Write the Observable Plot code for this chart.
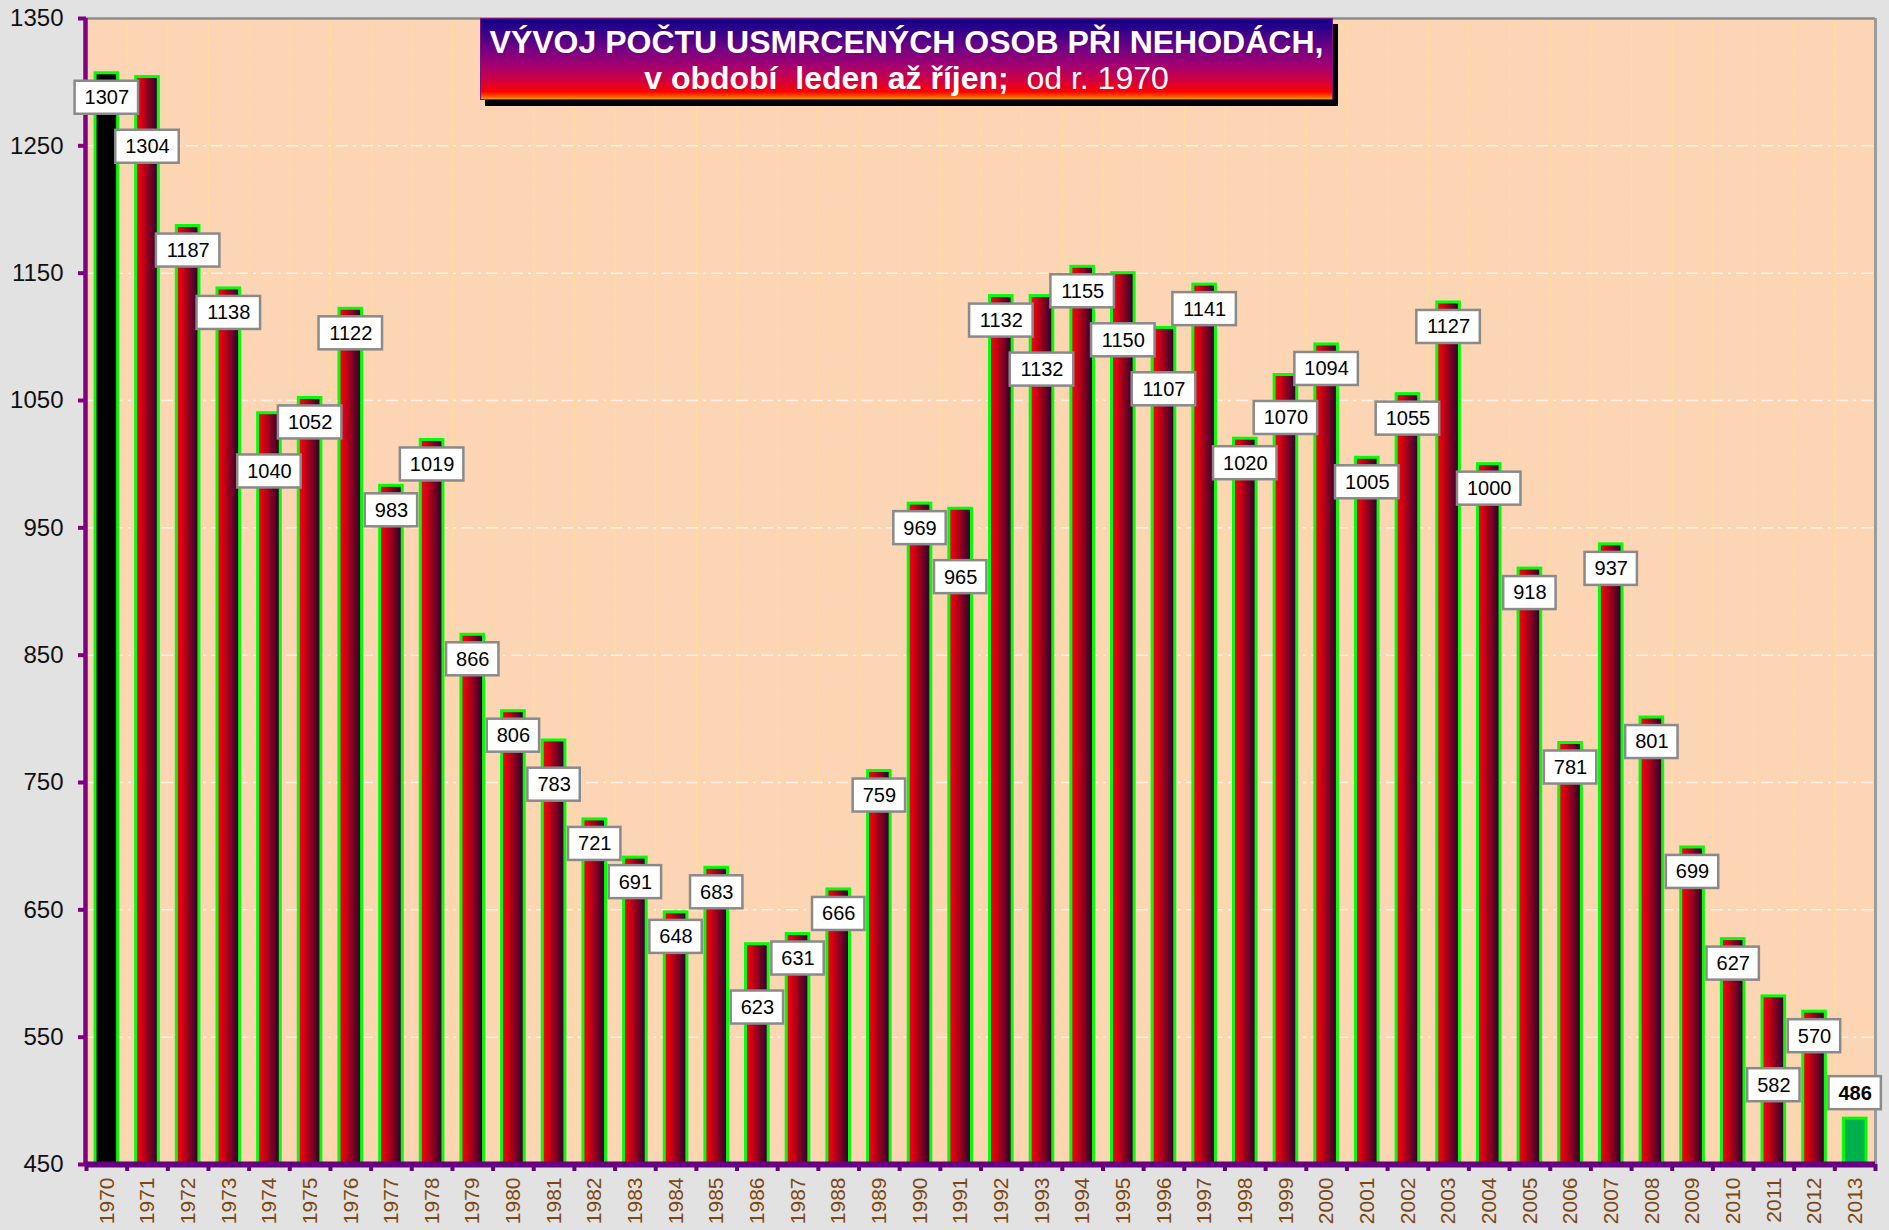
<!DOCTYPE html>
<html>
<head>
<meta charset="utf-8">
<script src="https://cdn.jsdelivr.net/npm/d3@7"></script>
<script src="https://cdn.jsdelivr.net/npm/@observablehq/plot@0.6"></script>
<style>
  html, body { margin: 0; padding: 0; background: #e2e2e2; }
  #wrap { position: relative; width: 1889px; height: 1230px; overflow: hidden; }
  #title {
    position: absolute; left: 480px; top: 18px; width: 853px; height: 82px;
    box-sizing: border-box; border: 1.5px solid #80107f;
    background: linear-gradient(to bottom, #0e0088 0%, #3c0088 18%, #7a0082 40%, #a8006e 60%, #d4003c 78%, #ff0000 91%, #ff5a00 97%, #ff9a00 100%);
    box-shadow: 5px 6px 0 #000;
    color: #fff; font-family: "Liberation Sans", Arial, sans-serif; font-size: 32px;
    text-align: center; padding-top: 5px; line-height: 36px; white-space: pre;
  }
  #title .b { font-weight: bold; }
  #title .n { font-weight: normal; }
</style>
</head>
<body>
<div id="wrap">
  <div id="chart"></div>
  <div id="title"><div class="b">VÝVOJ POČTU USMRCENÝCH OSOB PŘI NEHODÁCH,</div><div><span class="b">v období  leden až říjen;</span><span class="n">  od r. 1970</span></div></div>
</div>
<script>
// ---- data ----
const years = [1970,1971,1972,1973,1974,1975,1976,1977,1978,1979,
               1980,1981,1982,1983,1984,1985,1986,1987,1988,1989,
               1990,1991,1992,1993,1994,1995,1996,1997,1998,1999,
               2000,2001,2002,2003,2004,2005,2006,2007,2008,2009,
               2010,2011,2012,2013];
const deaths = [1307,1304,1187,1138,1040,1052,1122,983,1019,866,
                806,783,721,691,648,683,623,631,666,759,
                969,965,1132,1132,1155,1150,1107,1141,1020,1070,
                1094,1005,1055,1127,1000,918,781,937,801,699,
                627,582,570,486];
const yTicks = [450,550,650,750,850,950,1050,1150,1250,1350];

// ---- layout ----
const W = 1889, H = 1230, mL = 86, mR = 14, mT = 18, mB = 66;
const yMin = 450, yMax = 1350;
const pIn = 0.444, pOut = 0.222;
const n = years.length, last = n - 1;
const step = (W - mL - mR) / (n - pIn + 2 * pOut);
const bw = step * (1 - pIn);
const font = "Liberation Sans, Arial, sans-serif";

const data = years.map((year, i) => ({year, value: deaths[i], i}));
const yScale = Plot.scale({y: {domain: [yMin, yMax], range: [H - mB, mT]}});

// ---- data label placement (inside end, pushed down on collision) ----
const boxH = 33, off = 8, gap = 16, fs = 20;
const tops = data.map(d => yScale.apply(d.value) + off);
tops[last] = yScale.apply(data[last].value) - 9 - boxH; // current year: outside end
const ov = (a, b) => a >= 0 && b >= 0 && a < n && b < n && tops[a] < tops[b] + boxH && tops[b] < tops[a] + boxH;
for (let i = 1; i < last; i++) {
  if (!ov(i - 1, i)) continue;
  let lower = data[i].value <= data[i - 1].value ? i : i - 1;
  let other = lower === i ? i - 1 : i;
  const fixedNeighbor = lower === i ? (i + 1 === last ? i + 1 : -1) : i - 2;
  const save = tops[lower];
  tops[lower] = tops[other] + boxH + gap;
  if (fixedNeighbor >= 0 && ov(lower, fixedNeighbor)) {
    tops[lower] = save;
    [lower, other] = [other, lower];
    tops[lower] = tops[other] + boxH + gap;
  }
}
const labels = data.map((d, k) => ({...d, top: tops[k], digits: String(d.value).length}));

const boxMark = (digits) => {
  const inset = -((digits * 0.556 * fs + 19) - bw) / 2;
  return Plot.barY(labels.filter(d => d.digits === digits), {
    x: "year",
    y1: d => yScale.invert(d.top + boxH),
    y2: d => yScale.invert(d.top),
    fill: "#ffffff", stroke: "#8a8a8a", strokeWidth: 2.5,
    insetLeft: inset, insetRight: inset
  });
};

const svg = Plot.plot({
  width: W, height: H,
  marginLeft: mL, marginRight: mR, marginTop: mT, marginBottom: mB,
  style: {fontFamily: font, background: "#e2e2e2", overflow: "visible"},
  x: {type: "band", domain: years, paddingInner: pIn, paddingOuter: pOut, round: false, axis: null},
  y: {domain: [yMin, yMax], axis: null},
  marks: [
    Plot.frame({fill: "#fcd5b4", stroke: "none"}),
    // vertical grid at category boundaries
    Plot.ruleX(years.slice(1), {x: d => d, dx: -step / 2, stroke: "#ffe38c", strokeWidth: 1, strokeDasharray: "3,2"}),
    // horizontal grid
    Plot.ruleY(yTicks.filter(t => t > yMin && t < yMax), {stroke: "#fff2e4", strokeWidth: 1.5, strokeDasharray: "12,5,3,5"}),
    // top border
    Plot.ruleY([yMax], {stroke: "#8c8c8c", strokeWidth: 2.5}),
    // bars
    Plot.barY(data.filter(d => d.i > 0 && d.i < last), {x: "year", y1: () => yMin, y2: "value", fill: "url(#barGrad)", stroke: "#00ff00", strokeWidth: 3}),
    Plot.barY(data.filter(d => d.i === 0), {x: "year", y1: () => yMin, y2: "value", fill: "#000000", stroke: "#00ff00", strokeWidth: 3}),
    Plot.barY(data.filter(d => d.i === last), {x: "year", y1: () => yMin, y2: "value", fill: "#00b04c", stroke: "#00ff00", strokeWidth: 3}),
    // right border
    Plot.ruleX([years[last]], {x: d => d, dx: step / 2, stroke: "#9c9c9c", strokeWidth: 3}),
    // left axis line
    Plot.ruleX([years[0]], {x: d => d, dx: -step / 2 - 1, y1: () => yMin, y2: () => yMax, stroke: "#800080", strokeWidth: 4.5}),
    // bottom axis line
    Plot.ruleY([yMin], {stroke: "#660080", strokeWidth: 6}),
    // x ticks at boundaries
    Plot.ruleX(years, {x: d => d, dx: -step / 2, y1: () => yMin, y2: () => yScale.invert(H - mB + 7), stroke: "#660080", strokeWidth: 4}),
    Plot.ruleX([years[last]], {x: d => d, dx: step / 2, y1: () => yMin, y2: () => yScale.invert(H - mB + 7), stroke: "#660080", strokeWidth: 4}),
    // y axis ticks and labels
    Plot.axisY({ticks: yTicks, tickSize: 8, tickPadding: 15, fontSize: 24, stroke: "#800080", strokeWidth: 4, fill: "#111", label: null, tickFormat: d => String(d)}),
    // x axis labels
    Plot.axisX({tickRotate: -90, tickSize: 0, tickPadding: 13, fontSize: 21, fill: "#7d4812", label: null, tickFormat: d => String(d)}),
    // data labels
    boxMark(3), boxMark(4),
    Plot.text(labels.filter(d => d.i < last), {x: "year", y: d => yScale.invert(d.top + boxH / 2), text: d => String(d.value), fontSize: fs, fill: "#000"}),
    Plot.text(labels.filter(d => d.i === last), {x: "year", y: d => yScale.invert(d.top + boxH / 2), text: d => String(d.value), fontSize: fs, fontWeight: "bold", fill: "#000"})
  ]
});

const defs = d3.select(svg).insert("defs", ":first-child");
const grad = defs.append("linearGradient").attr("id", "barGrad")
  .attr("x1", 0).attr("x2", 1).attr("y1", 0).attr("y2", 0);
[[0, "#ff0010"], [0.25, "#d80012"], [0.55, "#8e001e"], [0.85, "#44002c"], [1, "#2c0032"]]
  .forEach(([o, c]) => grad.append("stop").attr("offset", o).attr("stop-color", c));

document.getElementById("chart").appendChild(svg);
</script>
</body>
</html>
